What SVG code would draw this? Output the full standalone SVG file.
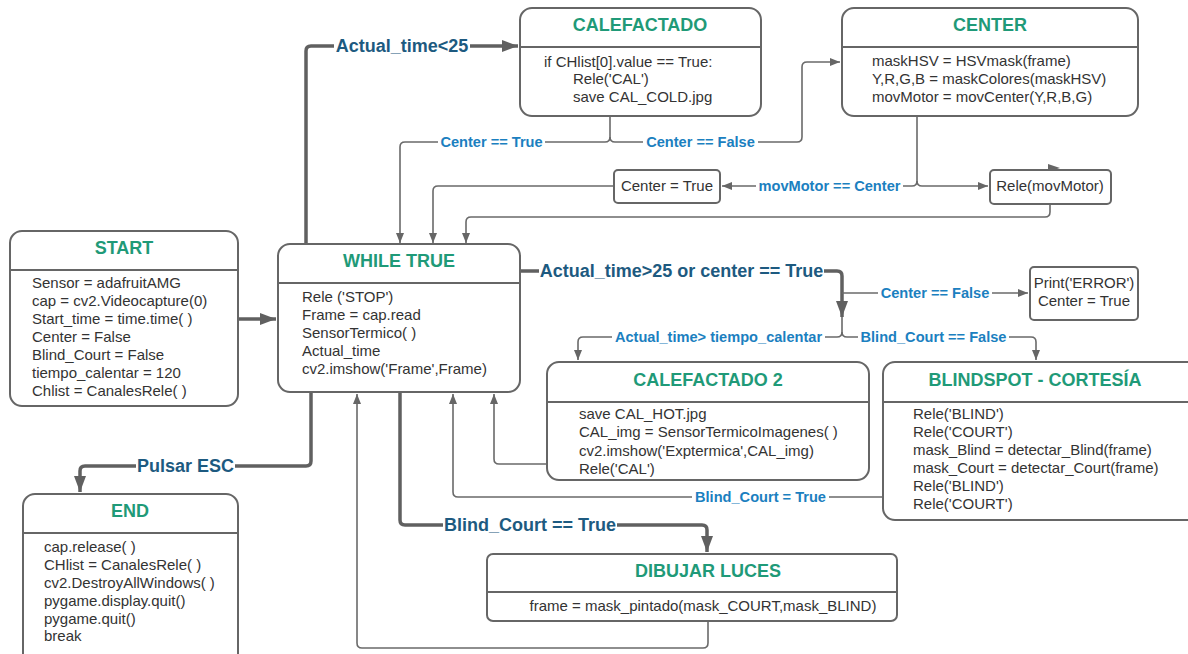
<svg xmlns="http://www.w3.org/2000/svg" width="1188" height="654" viewBox="0 0 1188 654">
<style>
.box{fill:#fff;stroke:#666;stroke-width:2}
.div{stroke:#666;stroke-width:2}
.title{font-family:"Liberation Sans",Arial,sans-serif;font-size:18px;font-weight:bold;fill:#1f9a78;text-anchor:middle}
.body{font-family:"Liberation Sans",Arial,sans-serif;font-size:15px;fill:#333}
.ctr{text-anchor:middle}
.thin{fill:none;stroke:#6a6a6a;stroke-width:1.6}
.thick{fill:none;stroke:#606060;stroke-width:3.5}
.bg{fill:#fff}
.lblB{font-family:"Liberation Sans",Arial,sans-serif;font-size:18px;font-weight:bold;fill:#1d5a80;text-anchor:middle}
.lbl{font-family:"Liberation Sans",Arial,sans-serif;font-size:14.6px;font-weight:bold;fill:#1b80c0;text-anchor:middle}
</style>
<defs>
<marker id="ah" markerWidth="10" markerHeight="8" refX="10" refY="4" orient="auto" markerUnits="userSpaceOnUse"><path d="M0,0 L10,4 L0,8 z" fill="#666"/></marker>
<marker id="ahb" markerWidth="16" markerHeight="12" refX="16" refY="6" orient="auto" markerUnits="userSpaceOnUse"><path d="M0,0 L16,6 L0,12 z" fill="#606060"/></marker>
</defs>
<rect width="1188" height="654" fill="#fff"/>

<g id="connectors">
<path class="thick" d="M238,319 H276" marker-end="url(#ahb)"/>
<path class="thick" d="M306,244 V51 Q306,46 311,46 H518" marker-end="url(#ahb)"/>
<path class="thin" d="M610,116 V137 Q610,142 605,142 H405 Q400,142 400,147 V243" marker-end="url(#ah)"/>
<path class="thin" d="M610,137 Q610,142 615,142 H797 Q802,142 802,137 V67 Q802,62 807,62 H840" marker-end="url(#ah)"/>
<path class="thin" d="M917,116 V181 Q917,186 912,186 H722" marker-end="url(#ah)"/>
<path class="thin" d="M917,181 Q917,186 922,186 H988" marker-end="url(#ah)"/>
<path class="thin" d="M614,186 H438 Q433,186 433,191 V243" marker-end="url(#ah)"/>
<path class="thin" d="M1050,204 V212 Q1050,217 1045,217 H471 Q466,217 466,222 V243" marker-end="url(#ah)"/>
<path d="M1048,164 L1060,168 L1048,172 z" fill="#666"/>
<path class="thick" d="M520,271 H837 Q842,271 842,276 V317" marker-end="url(#ahb)"/>
<path class="thin" d="M842,293 H1028" marker-end="url(#ah)"/>
<path class="thin" d="M842,317 V332 Q842,337 837,337 H583 Q578,337 578,342 V360" marker-end="url(#ah)"/>
<path class="thin" d="M842,332 Q842,337 847,337 H1031 Q1036,337 1036,342 V360" marker-end="url(#ah)"/>
<path class="thin" d="M547,464 H499 Q494,464 494,459 V394" marker-end="url(#ah)"/>
<path class="thin" d="M883,497 H458 Q453,497 453,492 V394" marker-end="url(#ah)"/>
<path class="thick" d="M400,392 V520 Q400,525 405,525 H702 Q707,525 707,530 V552" marker-end="url(#ahb)"/>
<path class="thin" d="M708,621 V643 Q708,648 703,648 H362 Q357,648 357,643 V394" marker-end="url(#ah)"/>
<path class="thick" d="M311,392 V461 Q311,466 306,466 H85 Q80,466 80,471 V492" marker-end="url(#ahb)"/>

<rect class="bg" x="334" y="36" width="136" height="20"/>
<text class="lblB" x="402" y="52">Actual_time&lt;25</text>
<rect class="bg" x="438" y="134" width="107" height="16"/>
<text class="lbl" x="491.5" y="147">Center == True</text>
<rect class="bg" x="643" y="134" width="115" height="16"/>
<text class="lbl" x="700.5" y="147">Center == False</text>
<rect class="bg" x="756" y="178" width="147" height="16"/>
<text class="lbl" x="829.5" y="191">movMotor == Center</text>
<rect class="bg" x="539" y="261" width="285" height="20"/>
<text class="lblB" x="681.5" y="277">Actual_time&gt;25 or center == True</text>
<rect class="bg" x="878" y="285" width="114" height="16"/>
<text class="lbl" x="935" y="298">Center == False</text>
<rect class="bg" x="612" y="329" width="213" height="16"/>
<text class="lbl" x="718.5" y="342">Actual_time&gt; tiempo_calentar</text>
<rect class="bg" x="858" y="329" width="151" height="16"/>
<text class="lbl" x="933.5" y="342">Blind_Court == False</text>
<rect class="bg" x="692" y="489" width="137" height="16"/>
<text class="lbl" x="760.5" y="502">Blind_Court = True</text>
<rect class="bg" x="443" y="515" width="174" height="20"/>
<text class="lblB" x="530" y="531">Blind_Court == True</text>
<rect class="bg" x="136" y="456" width="99" height="20"/>
<text class="lblB" x="185.5" y="472">Pulsar ESC</text>
</g>

<g id="start">
<rect class="box" x="10" y="231" width="228" height="175" rx="12"/>
<line class="div" x1="10" y1="270" x2="238" y2="270"/>
<text class="title" x="124" y="254">START</text>
<text class="body" x="32" y="288">Sensor = adafruitAMG</text>
<text class="body" x="32" y="306">cap = cv2.Videocapture(0)</text>
<text class="body" x="32" y="324">Start_time = time.time( )</text>
<text class="body" x="32" y="342">Center = False</text>
<text class="body" x="32" y="360">Blind_Court = False</text>
<text class="body" x="32" y="378">tiempo_calentar = 120</text>
<text class="body" x="32" y="396">Chlist = CanalesRele( )</text>
</g>

<g id="while">
<rect class="box" x="278" y="244" width="242" height="148" rx="12"/>
<line class="div" x1="278" y1="283" x2="520" y2="283"/>
<text class="title" x="399" y="267">WHILE TRUE</text>
<text class="body" x="302" y="302">Rele ('STOP')</text>
<text class="body" x="302" y="320">Frame = cap.read</text>
<text class="body" x="302" y="338">SensorTermico( )</text>
<text class="body" x="302" y="356">Actual_time</text>
<text class="body" x="302" y="374">cv2.imshow('Frame',Frame)</text>
</g>

<g id="calefactado">
<rect class="box" x="520" y="8" width="241" height="108" rx="12"/>
<line class="div" x1="520" y1="47" x2="761" y2="47"/>
<text class="title" x="640" y="31">CALEFACTADO</text>
<text class="body" x="544" y="67">if CHlist[0].value == True:</text>
<text class="body" x="573" y="84">Rele('CAL')</text>
<text class="body" x="573" y="102">save CAL_COLD.jpg</text>
</g>

<g id="center">
<rect class="box" x="842" y="8" width="296" height="108" rx="12"/>
<line class="div" x1="842" y1="47" x2="1138" y2="47"/>
<text class="title" x="990" y="31">CENTER</text>
<text class="body" x="872" y="66">maskHSV = HSVmask(frame)</text>
<text class="body" x="872" y="84">Y,R,G,B = maskColores(maskHSV)</text>
<text class="body" x="872" y="102">movMotor = movCenter(Y,R,B,G)</text>
</g>

<g id="center-true">
<rect class="box" x="614" y="170" width="106" height="33" rx="4"/>
<text class="body ctr" x="667" y="191">Center = True</text>
</g>

<g id="rele-movmotor">
<rect class="box" x="990" y="170" width="121" height="34" rx="4"/>
<text class="body ctr" x="1050" y="191">Rele(movMotor)</text>
</g>

<g id="print-error">
<rect class="box" x="1030" y="267" width="108" height="53" rx="4"/>
<text class="body ctr" x="1084" y="288">Print('ERROR')</text>
<text class="body ctr" x="1084" y="306">Center = True</text>
</g>

<g id="calefactado2">
<rect class="box" x="547" y="362" width="322" height="118" rx="12"/>
<line class="div" x1="547" y1="402" x2="869" y2="402"/>
<text class="title" x="708" y="386">CALEFACTADO 2</text>
<text class="body" x="579" y="419">save CAL_HOT.jpg</text>
<text class="body" x="579" y="437">CAL_img = SensorTermicoImagenes( )</text>
<text class="body" x="579" y="456">cv2.imshow('Exptermica',CAL_img)</text>
<text class="body" x="579" y="474">Rele('CAL')</text>
</g>

<g id="blindspot">
<rect class="box" x="883" y="362" width="318" height="158" rx="12"/>
<line class="div" x1="883" y1="402" x2="1188" y2="402"/>
<text class="title" x="1035" y="386">BLINDSPOT - CORTESÍA</text>
<text class="body" x="913" y="419">Rele('BLIND')</text>
<text class="body" x="913" y="437">Rele('COURT')</text>
<text class="body" x="913" y="455">mask_Blind = detectar_Blind(frame)</text>
<text class="body" x="913" y="473">mask_Court = detectar_Court(frame)</text>
<text class="body" x="913" y="491">Rele('BLIND')</text>
<text class="body" x="913" y="509">Rele('COURT')</text>
</g>

<g id="end">
<rect class="box" x="23" y="494" width="215" height="175" rx="12"/>
<line class="div" x1="23" y1="533" x2="238" y2="533"/>
<text class="title" x="130" y="517">END</text>
<text class="body" x="44" y="552">cap.release( )</text>
<text class="body" x="44" y="570">CHlist = CanalesRele( )</text>
<text class="body" x="44" y="588">cv2.DestroyAllWindows( )</text>
<text class="body" x="44" y="606">pygame.display.quit()</text>
<text class="body" x="44" y="624">pygame.quit()</text>
<text class="body" x="44" y="641">break</text>
</g>

<g id="dibujar">
<rect class="box" x="487" y="554" width="410" height="67" rx="6"/>
<line class="div" x1="487" y1="592" x2="897" y2="592"/>
<text class="title" x="708" y="577">DIBUJAR LUCES</text>
<text class="body ctr" x="703" y="611">frame = mask_pintado(mask_COURT,mask_BLIND)</text>
</g>
</svg>
